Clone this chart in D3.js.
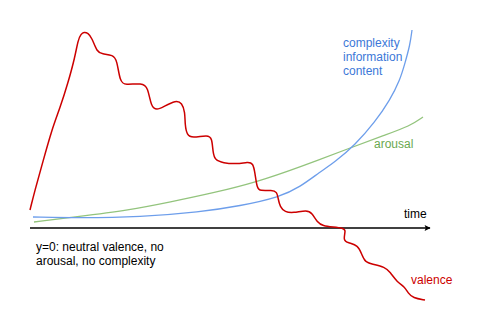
<!DOCTYPE html>
<html>
<head>
<meta charset="utf-8">
<script src="https://cdn.jsdelivr.net/npm/d3@7"></script>
<style>
  body { margin: 0; background: #fff; }
  text { font-family: "Liberation Sans", Arial, sans-serif; font-size: 12px; }
</style>
</head>
<body>
<div id="chart"></div>
<script>
// time / value pairs (arbitrary units, y=0 is the time axis)
var valenceT = [0, 1, 2.4, 4.4, 6, 7.6, 9, 9.6, 10.2, 10.8, 11.6, 12.4, 13.4, 14.4, 16.6, 17.4, 18, 19, 22.4, 23.6,
  24.2, 25.4, 26.6, 29.2, 30.4, 31, 31, 31.4, 32.4, 35.6, 36.4, 36.6, 37, 38.6, 41.4, 43.6, 44.6, 45, 45.4, 46,
  48.4, 49.4, 49.6, 50, 51, 52.6, 55.4, 56.4, 57.4, 58.6, 60.6, 62.6, 63.2, 62.6, 63.6, 65.6, 66.4, 67, 68.4, 71,
  72, 73.4, 75, 75.6, 76.6, 79]
var valenceV = [1.8, 3.8, 6.3, 9.9, 12, 14.5, 17.1, 18.8, 19.4, 19.6, 19.5, 19, 17.6, 17.4, 17.3, 16.8, 14.6, 14.3, 14.5, 14.1,
  12.1, 11.8, 12.1, 12.8, 12.5, 11.6, 10.3, 9.3, 9, 9.3, 9, 7.5, 6.8, 6.5, 6.4, 6.6, 6.5, 5.5, 4, 3.7,
  3.8, 3.6, 3, 2.1, 1.6, 1.5, 1.8, 1.5, 0.6, 0.2, 0.1, 0, -0.2, -1.2, -1.5, -1.7, -2.7, -3.4, -3.6, -3.9,
  -4.4, -5.4, -5.9, -6.5, -7, -7.2]

var complexityT = [0.6, 10, 22, 34, 42, 50, 54, 58, 61, 65, 69, 72, 74, 75, 76, 76.4]
var complexityV = [1.1, 1.0, 1.1, 1.6, 2.2, 3.1, 4.1, 5.6, 6.6, 8.3, 10.6, 12.8, 14.8, 16.5, 18.3, 19.8]

var arousalT = [0.8, 9, 20, 28, 36.6, 45.4, 54, 64, 71, 76, 78.6]
var arousalV = [0.6, 1.1, 1.8, 2.6, 3.5, 4.6, 6.1, 8, 9.3, 10.2, 11.1]

var labels = {
  complexity: ["complexity", "information", "content"],
  arousal: ["arousal"],
  valence: ["valence"],
  axis: "time",
  note: ["y=0: neutral valence, no", "arousal, no complexity"]
}

var colors = {}
colors.valence = "#cc0000"
colors.complexity = "#6d9eeb"
colors.complexityText = "#3c78d8"
colors.arousal = "#93c47d"
colors.arousalText = "#6aa84f"

document.addEventListener("DOMContentLoaded", function() {
  draw()
});

function zip(ts, vs) {
  return ts.map(function(t, i) { return [t, vs[i]]; });
}

function draw() {
  var width = 495, height = 331;

  var x = d3.scaleLinear().domain([0, 81]).range([30, 435]);
  var y = d3.scaleLinear().domain([-8, 20]).range([308, 28]);

  var svg = d3.select("#chart").append("svg")
    .attr("width", width)
    .attr("height", height);

  var line = d3.line()
    .x(function(d) { return x(d[0]); })
    .y(function(d) { return y(d[1]); })
    .curve(d3.curveBasis);

  // time axis with arrow
  svg.append("defs").append("marker")
    .attr("id", "arrow")
    .attr("viewBox", "0 0 10 10")
    .attr("refX", 9).attr("refY", 5)
    .attr("markerWidth", 7).attr("markerHeight", 6)
    .attr("markerUnits", "userSpaceOnUse")
    .attr("orient", "auto")
    .append("path")
    .attr("d", "M0,0 L10,5 L0,10 L2,5 Z")
    .attr("fill", "#000");

  svg.append("line")
    .attr("x1", x(0)).attr("x2", x(80))
    .attr("y1", y(0)).attr("y2", y(0))
    .attr("stroke", "#000")
    .attr("stroke-width", 1.5)
    .attr("marker-end", "url(#arrow)");

  svg.append("path")
    .datum(zip(arousalT, arousalV))
    .attr("d", line)
    .attr("fill", "none")
    .attr("stroke", colors.arousal)
    .attr("stroke-width", 1.3);

  svg.append("path")
    .datum(zip(complexityT, complexityV))
    .attr("d", line)
    .attr("fill", "none")
    .attr("stroke", colors.complexity)
    .attr("stroke-width", 1.3);

  svg.append("path")
    .datum(zip(valenceT, valenceV))
    .attr("d", line)
    .attr("fill", "none")
    .attr("stroke", colors.valence)
    .attr("stroke-width", 1.5);

  // labels
  svg.append("text")
    .attr("x", x(74.8)).attr("y", y(1))
    .attr("fill", "#000")
    .text(labels.axis);

  svg.selectAll("text.note")
    .data(labels.note)
    .enter()
    .append("text")
    .attr("class", "note")
    .attr("x", 36)
    .attr("y", function(d, i) { return 251 + i * 14; })
    .attr("fill", "#000")
    .text(function(d) { return d; });

  svg.selectAll("text.cx")
    .data(labels.complexity)
    .enter()
    .append("text")
    .attr("class", "cx")
    .attr("x", 343)
    .attr("y", function(d, i) { return 47 + i * 14; })
    .attr("fill", colors.complexityText)
    .text(function(d) { return d; });

  svg.append("text")
    .attr("x", 374).attr("y", 148)
    .attr("fill", colors.arousalText)
    .text(labels.arousal[0]);

  svg.append("text")
    .attr("x", 411).attr("y", 284)
    .attr("fill", colors.valence)
    .text(labels.valence[0]);
}
</script>
</body>
</html>
